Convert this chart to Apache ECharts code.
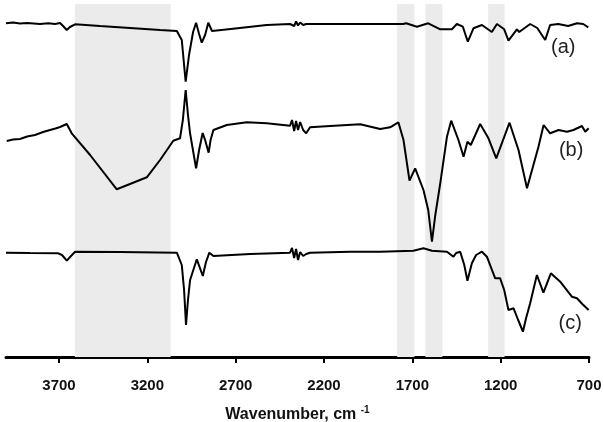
<!DOCTYPE html>
<html>
<head>
<meta charset="utf-8">
<script src="https://cdn.jsdelivr.net/npm/echarts@6/dist/echarts.min.js"></script>
<style>
  html, body { margin: 0; padding: 0; background: #fff; }
  #chart { width: 604px; height: 422px; }
</style>
</head>
<body>
<div id="chart"></div>
<script>
// wavenumber axis range and tick step
const axisMin = 700;
const axisMax = 4000;
const tickStep = 500;

// shaded regions (wavenumber, high -> low)
const bandHigh = [3610, 1786, 1626, 1271];
const bandLow = [3068, 1688, 1530, 1178];

// spectrum (a), offset intensity
const specA = [
  [4000, 333.7], [3960, 334.5], [3921, 333.5], [3880, 334], [3808, 333], [3760, 333.8],
  [3723, 333], [3694, 334], [3677, 331], [3656, 327], [3638, 330], [3609, 332.7],
  [3468, 331], [3298, 329], [3128, 327], [3033, 326], [3005, 317], [2992, 292],
  [2983, 275.3], [2964, 302], [2941, 325], [2924, 334.3], [2907, 323], [2892, 314.3],
  [2873, 322], [2855, 334.3], [2834, 326], [2715, 328.3], [2524, 332], [2392, 333],
  [2381, 335], [2369, 331], [2358, 335.5], [2347, 331.5], [2335, 334.5], [2318, 332],
  [2301, 333], [2279, 333], [2052, 333], [1752, 333], [1735, 333.7], [1674, 330.3],
  [1610, 333.7], [1542, 327.7], [1476, 327.7], [1448, 333], [1414, 330.3], [1386, 315.3],
  [1354, 328.7], [1306, 332], [1250, 325], [1221, 333], [1180, 327.7], [1156, 316.3],
  [1108, 327.7], [1095, 325], [1033, 333], [993, 329], [948, 317], [920, 332],
  [874, 333], [818, 331], [768, 333.7], [733, 333], [704, 329.7]
];

// spectrum (b)
const specB = [
  [3996, 216], [3960, 217.5], [3921, 218], [3880, 220.5], [3836, 222], [3790, 225],
  [3751, 227], [3720, 228.5], [3694, 230], [3656, 233], [3628, 223.7], [3524, 202],
  [3373, 167.7], [3298, 173], [3203, 179.7], [3128, 197], [3053, 216.3], [3015, 218.7],
  [2999, 237], [2983, 267], [2970, 242], [2958, 223.7], [2924, 188.7], [2907, 207],
  [2887, 224], [2873, 217], [2853, 204.3], [2842, 217], [2826, 227], [2750, 232],
  [2637, 234.7], [2524, 233.7], [2392, 231.3], [2381, 237], [2369, 226], [2358, 236],
  [2347, 227], [2335, 235], [2318, 227], [2301, 223.7], [2279, 229.7], [2165, 231],
  [1995, 232.7], [1882, 228], [1826, 229.7], [1779, 234.7], [1750, 217], [1716, 176.3],
  [1684, 188.7], [1637, 167], [1610, 147], [1589, 115.3], [1570, 142], [1542, 173.7],
  [1504, 220.3], [1480, 236.3], [1439, 217], [1410, 200.3], [1388, 215.3], [1369, 212],
  [1316, 233], [1269, 218.7], [1225, 198.7], [1150, 234.3], [1099, 207], [1051, 168.7],
  [986, 210.3], [957, 232], [920, 223.7], [872, 227], [825, 225.3], [788, 227],
  [740, 231], [721, 225.3], [702, 228.7]
];

// spectrum (c)
const specC = [
  [4000, 104.3], [3864, 104], [3704, 103.7], [3683, 102], [3656, 96.3], [3632, 101],
  [3609, 105.3], [3355, 105], [3033, 104.3], [3005, 92], [2992, 67], [2981, 32],
  [2970, 57], [2958, 77], [2920, 97.7], [2886, 81], [2868, 95], [2849, 104.3],
  [2826, 101], [2618, 103], [2392, 104.3], [2381, 109], [2369, 99], [2358, 108],
  [2347, 97], [2335, 105], [2318, 101], [2301, 103], [2279, 104.3], [2052, 105.3],
  [1882, 105.3], [1694, 106.3], [1637, 108.7], [1589, 106.3], [1504, 105.3], [1467, 100.3],
  [1452, 104], [1429, 105.3], [1406, 92], [1388, 76.3], [1363, 93.7], [1339, 102],
  [1306, 105.3], [1278, 100.3], [1231, 78.7], [1203, 78.7], [1180, 67], [1156, 47],
  [1127, 48.7], [1101, 37], [1074, 25.3], [1056, 39], [1033, 53.7], [995, 82],
  [958, 64.3], [916, 83.7], [863, 75.3], [797, 60.3], [768, 58.7], [738, 53],
  [702, 47]
];

// trace captions and where they sit
const captions = ["(a)", "(b)", "(c)"];
const captionAt = [[846, 310], [801, 207], [806, 34]];

const chart = echarts.init(document.getElementById("chart"));

const traceSeries = (data, i) => ({
  type: "line",
  data: data,
  symbol: "none",
  z: 3,
  lineStyle: { color: "#000", width: 2 },
  markPoint: {
    silent: true,
    symbol: "rect",
    symbolSize: 1,
    itemStyle: { color: "transparent" },
    label: {
      show: true,
      position: "inside",
      formatter: captions[i],
      fontFamily: "Liberation Sans",
      fontSize: 20,
      color: "#222",
    },
    data: [{ coord: captionAt[i] }],
  },
});

const option = {
  animation: false,
  grid: { left: 6, right: 15, top: 0, bottom: 65, containLabel: false, outerBoundsMode: "none" },
  xAxis: {
    type: "value",
    min: axisMin,
    max: axisMax,
    interval: tickStep,
    inverse: true,
    splitLine: { show: false },
    axisLine: { show: true, lineStyle: { color: "#000", width: 3 } },
    axisTick: {
      show: true,
      length: 6,
      lineStyle: { color: "#000", width: 2 },
    },
    axisLabel: {
      showMaxLabel: false,
      formatter: (v) => String(v),
      margin: 21,
      fontFamily: "Liberation Sans",
      fontWeight: "bold",
      fontSize: 15,
      color: "#111",
    },
    name: "{t|Wavenumber, cm }{s|-1}",
    nameLocation: "middle",
    nameGap: 48,
    nameTextStyle: {
      rich: {
        t: { fontFamily: "Liberation Sans", fontWeight: "bold", fontSize: 16, color: "#111" },
        s: { fontFamily: "Liberation Sans", fontWeight: "bold", fontSize: 10, color: "#111", padding: [0, 0, 9, 0] },
      },
    },
  },
  yAxis: { type: "value", min: 0, max: 357, show: false },
  series: [
    {
      type: "custom",
      z: 1,
      silent: true,
      data: bandHigh.map((h, i) => [h, bandLow[i]]),
      renderItem: (params, api) => {
        const p1 = api.coord([api.value(0), 353]);
        const p2 = api.coord([api.value(1), 0]);
        return {
          type: "rect",
          shape: { x: p1[0], y: p1[1], width: p2[0] - p1[0], height: p2[1] - p1[1] },
          style: { fill: "#ebebeb" },
        };
      },
    },
    traceSeries(specA, 0),
    traceSeries(specB, 1),
    traceSeries(specC, 2),
  ],
};

chart.setOption(option);
</script>
</body>
</html>
